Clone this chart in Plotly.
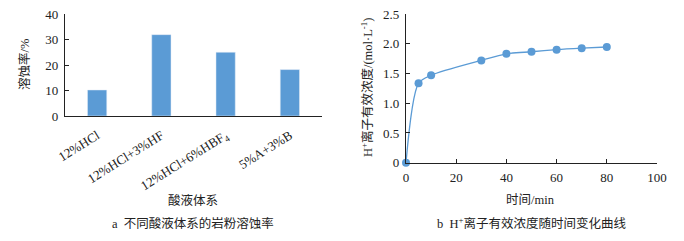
import plotly.graph_objects as go

categories = ["12%HCl", "12%HCl+3%HF", "12%HCl+6%HBF<sub>4</sub>", "5%A+3%B"]
dissolution = [10.2, 31.9, 25.0, 18.2]

time_min = [0, 5, 10, 30, 40, 50, 60, 70, 80]
h_conc = [0, 1.335, 1.47, 1.72, 1.83, 1.865, 1.90, 1.925, 1.945]

left_y_ticks = [0, 10, 20, 30, 40]
right_y_vals = [0, 0.5, 1.0, 1.5, 2.0, 2.5]
right_y_text = ["0", "0.5", "1.0", "1.5", "2.0", "2.5"]
right_x_ticks = [0, 20, 40, 60, 80, 100]

FONT = "Liberation Serif, Noto Sans CJK SC, serif"
BLUE = "#5B9BD5"
W, H = 684, 241

fig = go.Figure()
fig.add_trace(go.Bar(x=categories, y=dissolution, marker_color=BLUE,
                     xaxis="x", yaxis="y", width=0.3))
fig.add_trace(go.Scatter(x=time_min, y=h_conc, mode="lines+markers",
                         line=dict(color=BLUE, width=1.3, shape="spline", smoothing=0.8),
                         marker=dict(color=BLUE, size=8),
                         xaxis="x2", yaxis="y2", cliponaxis=False))

def px_x(p):
    return p / W

def px_y(p):
    return 1 - p / H

common = dict(automargin=False, showgrid=False, zeroline=False,
              showline=True, linecolor="#222", linewidth=1.2,
              tickcolor="#222", tickfont=dict(size=13, family=FONT, color="#222"))

fig.update_layout(
    width=W, height=H,
    margin=dict(l=0, r=0, t=0, b=0, autoexpand=False),
    paper_bgcolor="white", plot_bgcolor="white",
    showlegend=False,
    font=dict(family=FONT, size=12, color="#222"),
    xaxis=dict(domain=[px_x(65), px_x(322)], anchor="y",
               ticks="", tickangle=-32, ticklabelstandoff=6, **common),
    yaxis=dict(domain=[px_y(116), px_y(14)], anchor="x",
               range=[0, 40], tickvals=left_y_ticks,
               ticks="inside", ticklen=4, ticklabelstandoff=3, **common),
    xaxis2=dict(domain=[px_x(406), px_x(657)], anchor="y2",
                range=[0, 100], tickvals=right_x_ticks,
                ticks="inside", ticklen=4, ticklabelstandoff=3, **common),
    yaxis2=dict(domain=[px_y(162.7), px_y(14)], anchor="x2",
                range=[0, 2.5], tickvals=right_y_vals, ticktext=right_y_text,
                ticks="inside", ticklen=4, ticklabelstandoff=3, **common),
)

annots = [
    dict(x=px_x(25), y=px_y(65), text="溶蚀率/%", textangle=-90, font=dict(size=12.5)),
    dict(x=px_x(193), y=px_y(200), text="酸液体系", font=dict(size=12.5)),
    dict(x=px_x(193), y=px_y(223), text="a  不同酸液体系的岩粉溶蚀率", font=dict(size=12.5)),
    dict(x=px_x(367), y=px_y(88), text="H<sup>+</sup>离子有效浓度/(mol·L<sup>-1</sup>)",
         textangle=-90, font=dict(size=12.5)),
    dict(x=px_x(530), y=px_y(200), text="时间/min", font=dict(size=12.5)),
    dict(x=px_x(531), y=px_y(223), text="b  H<sup>+</sup>离子有效浓度随时间变化曲线", font=dict(size=12.5)),
]
for a in annots:
    fig.add_annotation(xref="paper", yref="paper", showarrow=False,
                       xanchor="center", yanchor="middle", **a)

fig.write_html("out.html", config={"displayModeBar": False},
               post_script="document.body.style.margin='0';document.body.style.overflow='hidden';")
